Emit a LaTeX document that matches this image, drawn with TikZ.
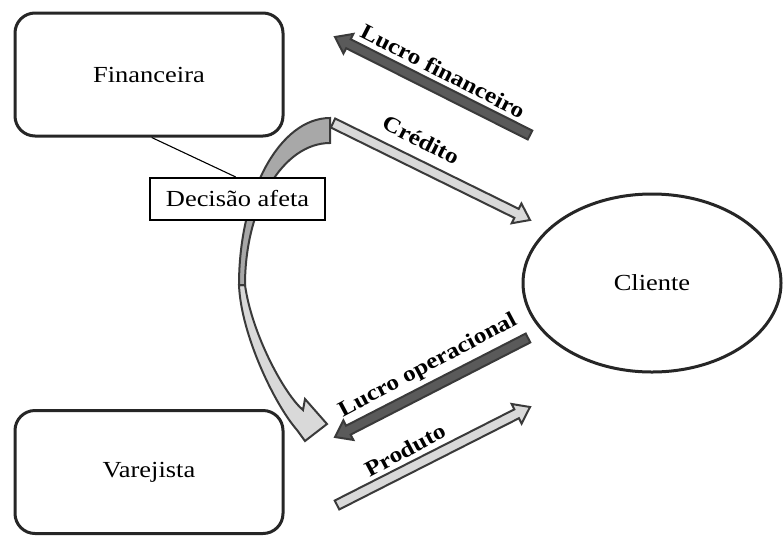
\documentclass[tikz,border=0pt]{standalone}
\usepackage{fontspec}
\setmainfont{Liberation Serif}[FakeStretch=1.15]
\usetikzlibrary{calc,shapes.geometric}
\definecolor{edge}{HTML}{262626}
\definecolor{arrline}{HTML}{3A3A3A}
\definecolor{darkfill}{HTML}{5A5A5A}
\definecolor{lightfill}{HTML}{D9D9D9}
\definecolor{midfill}{HTML}{A8A8A8}
\tikzset{
  entity/.style={draw=edge, line width=3pt, rounded corners=20pt, fill=white,
    minimum width=268pt, minimum height=123pt, font=\fontsize{23}{27}\selectfont},
  client/.style={draw=edge, line width=3pt, ellipse, fill=white,
    minimum width=258pt, minimum height=178pt, font=\fontsize{23}{27}\selectfont},
  notebox/.style={draw=black, line width=2pt, fill=white, minimum width=175pt,
    minimum height=42pt, font=\fontsize{23}{27}\selectfont},
  darkarr/.style={draw=arrline, line width=2pt, fill=darkfill},
  lightarr/.style={draw=arrline, line width=2pt, fill=lightfill},
  curvback/.style={draw=arrline, line width=2pt, fill=midfill},
  curvfront/.style={draw=arrline, line width=2pt, fill=lightfill},
  lbl/.style={font=\fontsize{22}{26}\selectfont\bfseries, inner sep=1pt},
}
\newcommand\blockarr[3]{%
  \coordinate (ba-h) at ($(#3)!15pt!(#2)$);
  \draw[#1] ($(#2)!5pt!90:(#3)$) -- ($(ba-h)!5pt!90:(#3)$) -- ($(ba-h)!11pt!90:(#3)$)
    -- (#3) -- ($(ba-h)!11pt!-90:(#3)$) -- ($(ba-h)!5pt!-90:(#3)$) -- ($(#2)!5pt!-90:(#3)$) -- cycle;}
\begin{document}
\begin{tikzpicture}[x=1pt, y=-1pt]
\useasboundingbox (0,0) rectangle (783,536);
% curved arrow
\draw[curvfront] (239,285) .. controls (241,335) and (275,405) .. (297,430)
   -- (305,441) -- (327,424) -- (305,399) -- (303,410)
   .. controls (285,395) and (252,335) .. (245,285) -- cycle;
\draw[curvback] (330,118) arc[start angle=-90, end angle=-180, x radius=91, y radius=167]
   -- (245,285) arc[start angle=180, end angle=270, x radius=85, y radius=142] -- cycle;
% nodes
\node[entity] (fin) at (149,74.5) {Financeira};
\node[entity] (var) at (149,472) {Varejista};
\node[client] (cli) at (652,283) {Cliente};
\node[notebox] (dec) at (237.5,199) {Decisão afeta};
\coordinate (finfoot) at ($(fin.south west)!0.51!(fin.south east)$);
\coordinate (dectop) at ($(dec.north west)!0.49!(dec.north east)$);
\draw[line width=1.1pt] (finfoot) -- (dectop);
% straight block arrows
\coordinate (lf-t) at (530,135); \coordinate (lf-h) at (335,37);
\coordinate (cr-t) at (333,123); \coordinate (cr-h) at (530,220);
\coordinate (lo-t) at (528,338); \coordinate (lo-h) at (335,437);
\coordinate (pr-t) at (337,505); \coordinate (pr-h) at (530,407);
\blockarr{darkarr}{lf-t}{lf-h}
\blockarr{lightarr}{cr-t}{cr-h}
\blockarr{darkarr}{lo-t}{lo-h}
\blockarr{lightarr}{pr-t}{pr-h}
% labels
\node[lbl, rotate=-27] (l1) at (443,71) {Lucro financeiro};
\node[lbl, rotate=-27] (l2) at (421,140) {Crédito};
\node[lbl, rotate=28] (l3) at (428,366) {Lucro operacional};
\node[lbl, rotate=28] (l4) at (405,450) {Produto};
\end{tikzpicture}
\end{document}
